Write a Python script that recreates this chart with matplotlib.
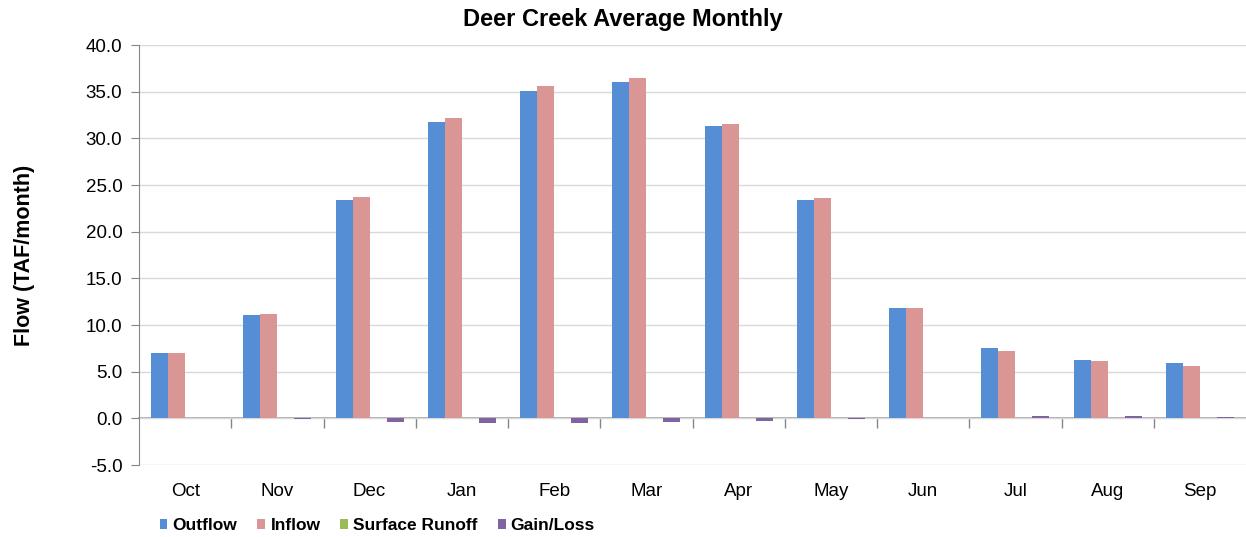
import matplotlib.pyplot as plt
import numpy as np

# Data (TAF/month)
months = ["Oct", "Nov", "Dec", "Jan", "Feb", "Mar", "Apr", "May", "Jun", "Jul", "Aug", "Sep"]
outflow = [7.0, 11.05, 23.4, 31.7, 35.1, 36.0, 31.3, 23.4, 11.8, 7.5, 6.3, 5.9]
inflow = [7.0, 11.15, 23.7, 32.2, 35.6, 36.5, 31.5, 23.6, 11.8, 7.2, 6.1, 5.6]
surface_runoff = [0.0, 0.0, 0.0, 0.0, 0.0, 0.0, 0.0, 0.0, 0.0, 0.0, 0.0, 0.0]
gain_loss = [0.0, -0.1, -0.35, -0.5, -0.5, -0.35, -0.3, -0.1, 0.0, 0.3, 0.3, 0.15]

series_names = ["Outflow", "Inflow", "Surface Runoff", "Gain/Loss"]
colors = ["#558ED5", "#D99694", "#9BBB59", "#8064A2"]

plt.rcParams["font.family"] = ["Liberation Sans", "DejaVu Sans"]

fig = plt.figure(figsize=(12.46, 5.37), dpi=100)
ax = fig.add_axes([139 / 1246, 1 - 465 / 537, 1 - 139 / 1246, (465 - 45) / 537])

x = np.arange(len(months))
width = 0.184
all_series = [outflow, inflow, surface_runoff, gain_loss]
for i, (vals, name, col) in enumerate(zip(all_series, series_names, colors)):
    ax.bar(x + (i - 1.5) * width, vals, width, color=col, label=name, zorder=3)

ax.set_xlim(-0.5, len(months) - 0.5)
ax.set_ylim(-5, 40)
ax.set_yticks(np.arange(-5, 41, 5))
ax.set_yticklabels([f"{v:.1f}" for v in np.arange(-5, 41, 5)])
ax.yaxis.grid(True, color="#D9D9D9", linewidth=1, zorder=0)

# category labels at the bottom, no tick marks
ax.set_xticks(x)
ax.set_xticklabels(months)
ax.tick_params(axis="x", length=0, pad=13, labelsize=13.5)
ax.tick_params(axis="y", length=6, color="#868686", labelsize=13.5, pad=6)

for s in ["top", "right", "bottom"]:
    ax.spines[s].set_visible(False)
ax.spines["left"].set_color("#868686")

# category axis drawn at zero with boundary tick marks
zero_frac = (0 - ax.get_ylim()[0]) / (ax.get_ylim()[1] - ax.get_ylim()[0])
sec = ax.secondary_xaxis(zero_frac)
sec.set_xticks(np.arange(0.5, len(months) - 0.5, 1))
sec.set_xticklabels([])
sec.tick_params(axis="x", direction="out", length=7, color="#868686", width=1)
sec.spines["bottom"].set_color("#A6A6A6")
sec.spines["bottom"].set_linewidth(1.3)

ax.set_ylabel("Flow (TAF/month)", fontsize=15.5, fontweight="bold")
ax.yaxis.set_label_coords(-0.094, 0.5)
fig.suptitle("Deer Creek Average Monthly", x=0.5, y=0.985, va="top",
             fontsize=17, fontweight="bold")

fig.legend(loc="lower left", bbox_to_anchor=(144 / 1246, -0.022), ncol=4, frameon=False,
           handlelength=0.45, handleheight=0.45, handletextpad=0.3, columnspacing=1.15,
           prop={"weight": "bold", "size": 12.5})

fig.savefig("out.png", dpi=100, facecolor="white")
